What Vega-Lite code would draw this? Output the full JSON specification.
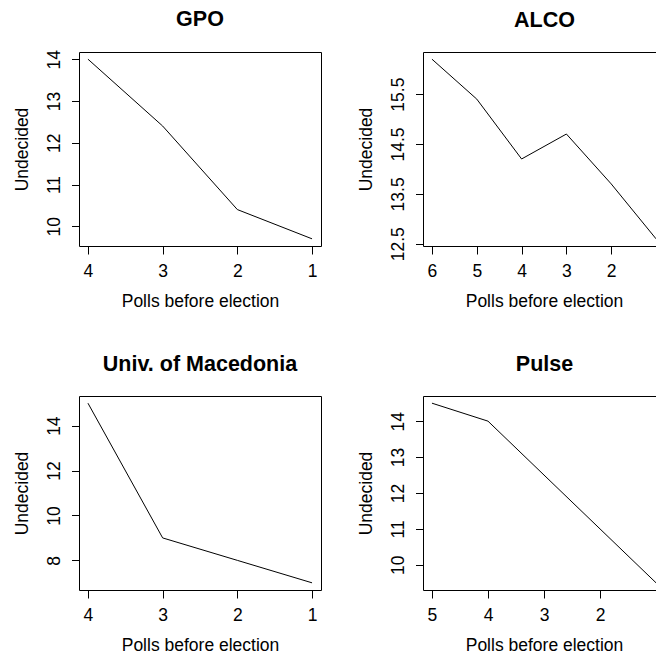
{
  "$schema": "https://vega.github.io/schema/vega-lite/v6.json",
  "padding": {"left": 13, "top": 8, "right": 0, "bottom": 0},
  "background": "white",
  "data": {"values": [
    {"pollster": "GPO", "poll": 4, "undecided": 14},
    {"pollster": "GPO", "poll": 3, "undecided": 12.4},
    {"pollster": "GPO", "poll": 2, "undecided": 10.4},
    {"pollster": "GPO", "poll": 1, "undecided": 9.7},
    {"pollster": "ALCO", "poll": 6, "undecided": 16.2},
    {"pollster": "ALCO", "poll": 5, "undecided": 15.4},
    {"pollster": "ALCO", "poll": 4, "undecided": 14.2},
    {"pollster": "ALCO", "poll": 3, "undecided": 14.7},
    {"pollster": "ALCO", "poll": 2, "undecided": 13.7},
    {"pollster": "ALCO", "poll": 1, "undecided": 12.6},
    {"pollster": "Univ. of Macedonia", "poll": 4, "undecided": 15},
    {"pollster": "Univ. of Macedonia", "poll": 3, "undecided": 9},
    {"pollster": "Univ. of Macedonia", "poll": 2, "undecided": 8},
    {"pollster": "Univ. of Macedonia", "poll": 1, "undecided": 7},
    {"pollster": "Pulse", "poll": 5, "undecided": 14.5},
    {"pollster": "Pulse", "poll": 4, "undecided": 14},
    {"pollster": "Pulse", "poll": 3, "undecided": 12.5},
    {"pollster": "Pulse", "poll": 2, "undecided": 11},
    {"pollster": "Pulse", "poll": 1, "undecided": 9.5}
  ]},
  "columns": 2,
  "bounds": "flush",
  "spacing": {"row": 150, "column": 102},
  "concat": [
    {
      "title": {"text": "GPO", "offset": 19},
      "width": 242, "height": 194,
      "transform": [{"filter": "datum.pollster === 'GPO'"}],
      "mark": {"type": "line", "color": "black", "strokeWidth": 1},
      "encoding": {
        "x": {"field": "poll", "type": "quantitative", "scale": {"domain": [4.12, 0.88], "nice": false, "zero": false}, "axis": {"values": [4, 3, 2, 1], "title": "Polls before election"}},
        "y": {"field": "undecided", "type": "quantitative", "scale": {"domain": [9.528, 14.172], "nice": false, "zero": false}, "axis": {"values": [10, 11, 12, 13, 14], "title": "Undecided"}}
      }
    },
    {
      "title": {"text": "ALCO", "dx": 5},
      "width": 233, "height": 194,
      "view": {"stroke": null},
      "transform": [{"filter": "datum.pollster === 'ALCO'"}],
      "layer": [
        {
          "mark": {"type": "line", "color": "black", "strokeWidth": 1, "clip": true},
          "encoding": {
            "x": {"field": "poll", "type": "quantitative", "scale": {"domain": [6.2, 1.001], "nice": false, "zero": false}, "axis": {"values": [6, 5, 4, 3, 2], "title": "Polls before election", "titleX": 121, "domain": true}},
            "y": {"field": "undecided", "type": "quantitative", "scale": {"domain": [12.456, 16.344], "nice": false, "zero": false}, "axis": {"values": [12.5, 13, 13.5, 14, 14.5, 15, 15.5, 16], "labelExpr": "(datum.value * 2) % 2 == 1 ? format(datum.value, '.1f') : ''", "title": "Undecided", "domain": true}}
          }
        },
        {
          "mark": {"type": "line", "opacity": 0, "clip": true},
          "encoding": {
            "x": {"field": "poll", "type": "quantitative", "scale": {"domain": [6.2, 1.001], "nice": false, "zero": false}, "axis": {"orient": "top", "domain": true, "ticks": false, "labels": false, "title": null}},
            "y": {"field": "undecided", "type": "quantitative"}
          }
        }
      ],
      "resolve": {"axis": {"x": "independent"}}
    },
    {
      "title": {"text": "Univ. of Macedonia"},
      "width": 242, "height": 194,
      "transform": [{"filter": "datum.pollster === 'Univ. of Macedonia'"}],
      "mark": {"type": "line", "color": "black", "strokeWidth": 1},
      "encoding": {
        "x": {"field": "poll", "type": "quantitative", "scale": {"domain": [4.12, 0.88], "nice": false, "zero": false}, "axis": {"values": [4, 3, 2, 1], "title": "Polls before election"}},
        "y": {"field": "undecided", "type": "quantitative", "scale": {"domain": [6.68, 15.32], "nice": false, "zero": false}, "axis": {"values": [8, 10, 12, 14], "title": "Undecided"}}
      }
    },
    {
      "title": {"text": "Pulse", "dx": 5},
      "width": 233, "height": 194,
      "view": {"stroke": null},
      "transform": [{"filter": "datum.pollster === 'Pulse'"}],
      "layer": [
        {
          "mark": {"type": "line", "color": "black", "strokeWidth": 1, "clip": true},
          "encoding": {
            "x": {"field": "poll", "type": "quantitative", "scale": {"domain": [5.16, 1.001], "nice": false, "zero": false}, "axis": {"values": [5, 4, 3, 2], "title": "Polls before election", "titleX": 121, "domain": true}},
            "y": {"field": "undecided", "type": "quantitative", "scale": {"domain": [9.3, 14.7], "nice": false, "zero": false}, "axis": {"values": [10, 11, 12, 13, 14], "title": "Undecided", "domain": true}}
          }
        },
        {
          "mark": {"type": "line", "opacity": 0, "clip": true},
          "encoding": {
            "x": {"field": "poll", "type": "quantitative", "scale": {"domain": [5.16, 1.001], "nice": false, "zero": false}, "axis": {"orient": "top", "domain": true, "ticks": false, "labels": false, "title": null}},
            "y": {"field": "undecided", "type": "quantitative"}
          }
        }
      ],
      "resolve": {"axis": {"x": "independent"}}
    }
  ],
  "config": {
    "font": "Liberation Sans",
    "view": {"stroke": "black", "strokeWidth": 1},
    "axis": {
      "domain": false, "domainColor": "black", "domainWidth": 1, "grid": false, "ticks": true, "tickColor": "black", "tickWidth": 1,
      "labelFont": "Liberation Sans", "labelFontSize": 17.5, "labelColor": "black", "labelOverlap": false, "labelFlush": false,
      "titleFont": "Liberation Sans", "titleFontSize": 17.5, "titleFontWeight": "normal", "titleColor": "black"
    },
    "axisX": {"tickSize": 8, "labelPadding": 22, "labelBaseline": "alphabetic", "labelAlign": "center", "titleBaseline": "alphabetic", "titlePadding": 27},
    "axisY": {"tickSize": 7.5, "labelAngle": -90, "labelAlign": "center", "labelBaseline": "alphabetic", "labelPadding": 12, "titleBaseline": "alphabetic", "titlePadding": 18},
    "title": {"font": "Liberation Sans", "fontSize": 21.5, "fontWeight": "bold", "color": "black", "baseline": "alphabetic", "offset": 21, "anchor": "middle", "frame": "group"}
  }
}
